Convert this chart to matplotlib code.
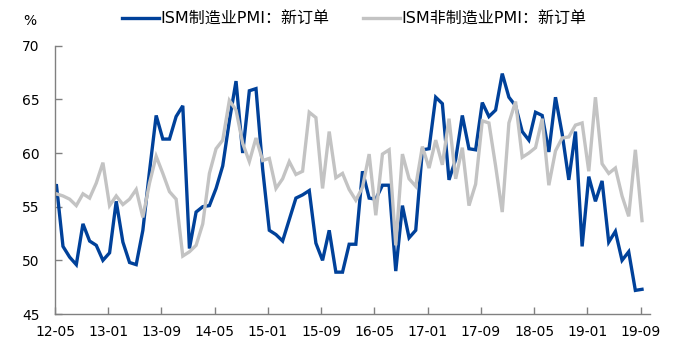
import matplotlib.pyplot as plt
import numpy as np

# ISM 新订单指数，月度，2012-04 ~ 2019-09（首个点落在坐标轴左侧，被裁掉）
mfg_new_orders = [
    54.5,
    57.1, 51.3, 50.3, 49.6, 53.4, 51.8, 51.4, 50.0, 50.7, 55.5,
    51.7, 49.8, 49.6, 52.8, 58.3, 63.5, 61.3, 61.3, 63.4, 64.4,
    51.1, 54.5, 55.0, 55.1, 56.7, 58.8, 63.0, 66.7, 60.0, 65.8,
    66.0, 58.5, 52.8, 52.4, 51.8, 53.8, 55.8, 56.1, 56.5, 51.6,
    50.0, 52.8, 48.9, 48.9, 51.5, 51.5, 58.3, 55.8, 55.7, 57.0,
    57.0, 49.0, 55.1, 52.1, 52.8, 60.3, 60.4, 65.2, 64.6, 57.5,
    59.4, 63.5, 60.4, 60.3, 64.7, 63.4, 64.0, 67.4, 65.2, 64.4,
    62.0, 61.2, 63.8, 63.5, 60.1, 65.2, 61.8, 57.5, 62.0, 51.3,
    57.8, 55.5, 57.4, 51.7, 52.7, 50.0, 50.8, 47.2, 47.3,
]
nonmfg_new_orders = [
    55.8,
    56.2, 56.0, 55.7, 55.1, 56.2, 55.8, 57.2, 59.1, 55.1, 56.0,
    55.2, 55.7, 56.6, 54.0, 57.2, 59.7, 58.1, 56.4, 55.7, 50.4,
    50.8, 51.4, 53.4, 58.1, 60.4, 61.2, 64.9, 64.0, 60.9, 59.2,
    61.4, 59.3, 59.5, 56.7, 57.6, 59.2, 58.0, 58.3, 63.8, 63.3,
    56.7, 62.0, 57.7, 58.1, 56.6, 55.6, 56.8, 59.9, 54.2, 59.9,
    60.3, 51.4, 59.9, 57.6, 56.9, 60.6, 58.6, 61.2, 58.9, 63.2,
    57.6, 60.5, 55.1, 57.1, 63.0, 62.8, 58.8, 54.5, 62.8, 64.8,
    59.6, 60.0, 60.5, 63.2, 57.0, 60.2, 61.4, 61.5, 62.6, 62.8,
    58.3, 65.2, 59.0, 58.1, 58.6, 56.0, 54.1, 60.3, 53.7,
]
tick_labels = ["12-05", "13-01", "13-09", "14-05", "15-01", "15-09",
               "16-05", "17-01", "17-09", "18-05", "19-01", "19-09"]

BLUE = "#00419A"
GRAY = "#C3C3C3"
AXIS = "#808080"

plt.rcParams["font.family"] = ["DejaVu Sans", "Noto Sans CJK SC"]

fig = plt.figure(figsize=(6.77, 3.47), dpi=100)
ax = fig.add_axes([55 / 677, 33 / 347, 595 / 677, 268.3 / 347])

x = np.arange(len(mfg_new_orders)) - 1 + 0.2
ax.plot(x, mfg_new_orders, color=BLUE, lw=2.4, label="ISM制造业PMI：新订单",
        solid_joinstyle="miter")
ax.plot(x, nonmfg_new_orders, color=GRAY, lw=2.4, label="ISM非制造业PMI：新订单",
        solid_joinstyle="miter")

ax.set_xlim(0, 89.4)
ax.set_ylim(45, 70)
ax.set_yticks(np.arange(45, 71, 5))
ax.set_xticks(np.arange(0, 89, 8))
ax.set_xticklabels(tick_labels)

for s in ("top", "right"):
    ax.spines[s].set_visible(False)
for s in ("left", "bottom"):
    ax.spines[s].set_color(AXIS)
    ax.spines[s].set_linewidth(1.0)
ax.tick_params(axis="both", direction="in", length=5, width=1, color=AXIS,
               labelsize=10, labelcolor="black")
ax.tick_params(axis="y", pad=11)
ax.tick_params(axis="x", pad=8)

fig.text(30 / 677, 1 - 21 / 347, "%", ha="center", va="center", fontsize=10)
fig.legend(loc="center left", bbox_to_anchor=(122 / 677, 1 - 19 / 347),
           ncol=2, frameon=False, fontsize=11.5, handlelength=2.3,
           handletextpad=0.12, columnspacing=2.1, borderpad=0,
           borderaxespad=0)

fig.savefig("out.png", dpi=100)
